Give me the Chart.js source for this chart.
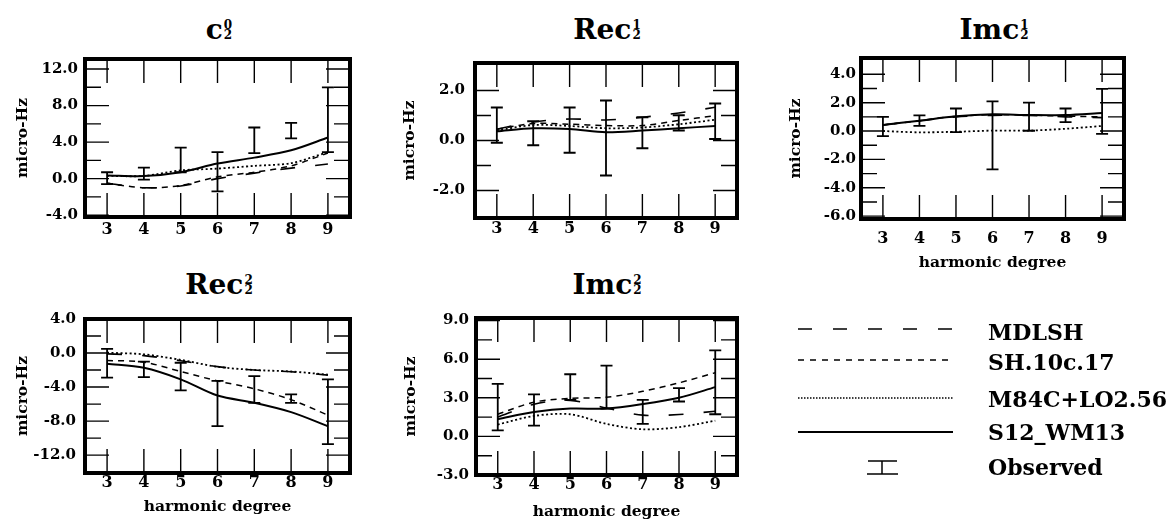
<!DOCTYPE html>
<html lang="en">
<head>
<meta charset="UTF-8" />
<title>Splitting coefficients vs harmonic degree</title>
<script src="https://cdn.jsdelivr.net/npm/chart.js"></script>
<style>
  body { margin: 0; width: 1171px; height: 531px; background: #fff; position: relative; overflow: hidden;
         font-family: "DejaVu Serif", serif; font-weight: bold; color: #000; }
  canvas { position: absolute; }
  .ttl { position: absolute; font-size: 28px; line-height: 28px; transform: translateX(-50%); white-space: nowrap; }
  .ss { display: inline-block; font-size: 12px; line-height: 10px; vertical-align: baseline; margin-left: 1px; text-align: left; }
  .ss span { display: block; }
  .leg { position: absolute; left: 988px; font-size: 22px; line-height: 22px; white-space: nowrap; }
  svg { position: absolute; left: 0; top: 0; }
</style>
</head>
<body>
<div class="ttl" style="left:219px;top:16px">c<span class="ss"><span>0</span><span>2</span></span></div>
<div class="ttl" style="left:607px;top:16px">Rec<span class="ss"><span>1</span><span>2</span></span></div>
<div class="ttl" style="left:994px;top:16px">Imc<span class="ss"><span>1</span><span>2</span></span></div>
<div class="ttl" style="left:219px;top:271px">Rec<span class="ss"><span>2</span><span>2</span></span></div>
<div class="ttl" style="left:607px;top:271px">Imc<span class="ss"><span>2</span><span>2</span></span></div>

<canvas id="p1"></canvas>
<canvas id="p2"></canvas>
<canvas id="p3"></canvas>
<canvas id="p4"></canvas>
<canvas id="p5"></canvas>

<svg width="1171" height="531">
  <g stroke="#000" fill="none">
    <line x1="798" y1="329" x2="953" y2="329" stroke-width="1.6" stroke-dasharray="14 21" />
    <line x1="798" y1="360" x2="953" y2="360" stroke-width="1.5" stroke-dasharray="6 6" />
    <line x1="798" y1="398" x2="953" y2="398" stroke-width="1.6" stroke-dasharray="1.5 1.5" />
    <line x1="798" y1="432" x2="953" y2="432" stroke-width="2" />
    <line x1="868" y1="461" x2="897" y2="461" stroke-width="1.5" />
    <line x1="882" y1="461" x2="882" y2="474" stroke-width="1.5" />
    <line x1="867" y1="474" x2="898" y2="474" stroke-width="1.5" />
  </g>
</svg>
<div class="leg" style="top:321px">MDLSH</div>
<div class="leg" style="top:351px">SH.10c.17</div>
<div class="leg" style="top:388px">M84C+LO2.56</div>
<div class="leg" style="top:421px">S12_WM13</div>
<div class="leg" style="top:456px">Observed</div>

<script>
  const degrees = [3, 4, 5, 6, 7, 8, 9];

  // c_2^0
  const c20MDLSH = [-0.5, -1.0, -0.8, 0.0, 0.6, 1.15, 1.6];
  const c20SH = [-0.5, -1.0, -0.75, 0.2, 0.7, 1.4, 2.8];
  const c20M84C = [0.3, 0.3, 0.9, 1.1, 1.4, 1.7, 2.9];
  const c20S12 = [0.35, 0.28, 0.7, 1.65, 2.3, 3.1, 4.5];
  const c20ObsLow = [-0.6, -0.1, 0.7, -1.4, 2.8, 4.4, 2.9];
  const c20ObsHigh = [0.7, 1.2, 3.4, 2.9, 5.6, 6.1, 10.0];

  // Re c_2^1
  const rec21MDLSH = [0.45, 0.74, 0.86, 0.82, 0.93, 1.1, 1.33];
  const rec21SH = [0.45, 0.68, 0.65, 0.6, 0.6, 0.8, 0.99];
  const rec21M84C = [0.4, 0.62, 0.58, 0.49, 0.52, 0.65, 0.83];
  const rec21S12 = [0.37, 0.49, 0.46, 0.33, 0.4, 0.49, 0.58];
  const rec21ObsLow = [-0.09, -0.19, -0.49, -1.4, -0.31, 0.4, 0.06];
  const rec21ObsHigh = [1.32, 0.77, 1.32, 1.6, 0.93, 1.01, 1.48];

  // Im c_2^1
  const imc21MDLSH = [0.43, 0.73, 1.0, 1.1, 1.1, 1.0, 0.95];
  const imc21SH = [0.43, 0.73, 1.04, 1.15, 1.12, 1.05, 1.0];
  const imc21M84C = [0.0, -0.09, -0.05, 0.03, 0.03, 0.16, 0.36];
  const imc21S12 = [0.43, 0.73, 1.04, 1.18, 1.13, 1.13, 1.27];
  const imc21ObsLow = [-0.36, 0.36, -0.07, -2.7, 0.02, 0.63, -0.2];
  const imc21ObsHigh = [1.0, 1.11, 1.59, 2.09, 2.0, 1.59, 2.97];

  // Re c_2^2
  const rec22MDLSH = [-0.1, -0.3, -0.9, -1.6, -2.0, -2.2, -2.6];
  const rec22SH = [-0.88, -1.07, -2.17, -3.28, -4.2, -5.48, -7.3];
  const rec22M84C = [0.04, -0.15, -0.8, -1.62, -1.99, -2.17, -2.54];
  const rec22S12 = [-1.25, -1.73, -3.09, -5.0, -5.85, -6.95, -8.6];
  const rec22ObsLow = [-2.9, -2.84, -4.38, -8.6, -5.85, -5.85, -10.7];
  const rec22ObsHigh = [0.48, -1.0, -1.14, -3.28, -2.72, -4.86, -3.09];

  // Im c_2^2
  const imc22MDLSH = [1.5, 2.5, 2.8, 2.2, 1.65, 1.7, 1.95];
  const imc22SH = [1.72, 2.66, 2.96, 3.04, 3.5, 4.16, 4.95];
  const imc22M84C = [0.92, 1.59, 1.72, 0.97, 0.55, 0.72, 1.22];
  const imc22S12 = [1.34, 1.89, 2.16, 2.16, 2.51, 3.0, 3.83];
  const imc22ObsLow = [0.47, 0.84, 2.84, 2.16, 0.97, 2.71, 1.72];
  const imc22ObsHigh = [4.08, 3.26, 4.83, 5.5, 2.84, 3.75, 6.69];

  // y tick values (labelled / unlabelled)
  const c20Major = [-4, 0, 4, 8, 12], c20Minor = [-2, 2, 6, 10];
  const rec21Major = [-2, 0, 2], rec21Minor = [-1, 1];
  const imc21Major = [-6, -4, -2, 0, 2, 4], imc21Minor = [-5, -3, -1, 1, 3];
  const rec22Major = [-12, -8, -4, 0, 4], rec22Minor = [-10, -6, -2, 2];
  const imc22Major = [-3, 0, 3, 6, 9], imc22Minor = [-1.5, 1.5, 4.5, 7.5];

  Chart.defaults.font.family = "'DejaVu Serif', serif";
  Chart.defaults.font.weight = "bold";
  Chart.defaults.color = "#000";

  const lineStyles = [
    { label: "MDLSH", dash: [15, 20], width: 1.6 },
    { label: "SH.10c.17", dash: [6, 5], width: 1.5 },
    { label: "M84C+LO2.56", dash: [2, 2.5], width: 1.8 },
    { label: "S12_WM13", dash: [], width: 2 },
  ];

  function makePanel(p) {
    const canvas = document.getElementById(p.id);
    const w = p.R - p.L + 85 + 12;
    const h = p.B - p.T + 8 + 60;
    canvas.width = w;
    canvas.height = h;
    canvas.style.left = p.L - 85 + "px";
    canvas.style.top = p.T - 8 + "px";

    const yTicks = p.major.concat(p.minor).sort((a, b) => a - b);

    // inward tick marks and heavy frame
    const frame = {
      id: "frame",
      afterDraw(chart) {
        const { ctx, chartArea: a, scales } = chart;
        ctx.save();
        ctx.strokeStyle = "#000";
        ctx.lineWidth = 1.4;
        ctx.beginPath();
        degrees.forEach((d) => {
          const px = scales.x.getPixelForValue(d);
          ctx.moveTo(px, a.top);
          ctx.lineTo(px, a.top + 24);
          ctx.moveTo(px, a.bottom);
          ctx.lineTo(px, a.bottom - 24);
        });
        yTicks.forEach((v) => {
          const py = scales.y.getPixelForValue(v);
          const len = p.minor.includes(v) ? 16 : 24;
          ctx.moveTo(a.left, py);
          ctx.lineTo(a.left + len, py);
          ctx.moveTo(a.right, py);
          ctx.lineTo(a.right - len, py);
        });
        ctx.stroke();
        ctx.lineWidth = 4;
        ctx.strokeRect(a.left, a.top, a.width, a.height);
        ctx.restore();
      },
    };

    // observed values with error bars
    const errorBars = {
      id: "errorBars",
      afterDatasetsDraw(chart) {
        const { ctx, scales } = chart;
        ctx.save();
        ctx.strokeStyle = "#000";
        ctx.lineWidth = 1.8;
        ctx.beginPath();
        p.obsLow.forEach((lo, i) => {
          const px = scales.x.getPixelForValue(degrees[i]);
          const y1 = scales.y.getPixelForValue(lo);
          const y2 = scales.y.getPixelForValue(p.obsHigh[i]);
          ctx.moveTo(px, y1);
          ctx.lineTo(px, y2);
          ctx.moveTo(px - 6, y1);
          ctx.lineTo(px + 6, y1);
          ctx.moveTo(px - 6, y2);
          ctx.lineTo(px + 6, y2);
        });
        ctx.stroke();
        ctx.restore();
      },
    };

    new Chart(canvas, {
      type: "line",
      data: {
        datasets: p.series.map((vals, k) => ({
          label: lineStyles[k].label,
          data: degrees.map((d, i) => ({ x: d, y: vals[i] })),
          borderColor: "#000",
          borderWidth: lineStyles[k].width,
          borderDash: lineStyles[k].dash,
          pointRadius: 0,
          tension: 0.3,
          fill: false,
        })),
      },
      options: {
        responsive: false,
        animation: false,
        layout: { padding: { top: 8, right: 12, left: 0, bottom: 0 } },
        plugins: { legend: { display: false }, tooltip: { enabled: false } },
        scales: {
          x: {
            type: "linear",
            min: 2.4,
            max: 9.6,
            afterBuildTicks: (s) => { s.ticks = degrees.map((v) => ({ value: v })); },
            afterFit: (s) => { s.height = 60; },
            grid: { display: false, drawTicks: false },
            border: { display: false },
            ticks: { padding: p.xPad, font: { size: 16 }, maxRotation: 0, autoSkip: false },
            title: {
              display: p.xTitle,
              text: "harmonic degree",
              font: { size: 15.5 },
              padding: { top: 0, bottom: p.xTitlePad },
            },
          },
          y: {
            min: p.yMin,
            max: p.yMax,
            afterBuildTicks: (s) => { s.ticks = yTicks.map((v) => ({ value: v })); },
            afterFit: (s) => { s.width = 85; },
            grid: { display: false, drawTicks: false },
            border: { display: false },
            ticks: {
              padding: p.yPad,
              font: { size: 15 },
              autoSkip: false,
              callback: (v) => (p.major.includes(v) ? v.toFixed(1) : ""),
            },
            title: {
              display: true,
              text: "micro-Hz",
              font: { size: 15.5 },
              padding: { top: p.yTitlePad, bottom: 0 },
            },
          },
        },
      },
      plugins: [errorBars, frame],
    });
  }

  makePanel({
    id: "p1", L: 85, R: 350, T: 51, B: 217, yMin: -4.2, yMax: 13.1,
    major: c20Major, minor: c20Minor,
    series: [c20MDLSH, c20SH, c20M84C, c20S12], obsLow: c20ObsLow, obsHigh: c20ObsHigh,
    xTitle: false, xPad: 3, xTitlePad: 0, yPad: 7, yTitlePad: 14,
  });
  makePanel({
    id: "p2", L: 475, R: 737, T: 52, B: 218, yMin: -3.1, yMax: 3.1,
    major: rec21Major, minor: rec21Minor,
    series: [rec21MDLSH, rec21SH, rec21M84C, rec21S12], obsLow: rec21ObsLow, obsHigh: rec21ObsHigh,
    xTitle: false, xPad: 1, xTitlePad: 0, yPad: 10, yTitlePad: 11,
  });
  makePanel({
    id: "p3", L: 861, R: 1124, T: 52, B: 219, yMin: -6.2, yMax: 5.15,
    major: imc21Major, minor: imc21Minor,
    series: [imc21MDLSH, imc21SH, imc21M84C, imc21S12], obsLow: imc21ObsLow, obsHigh: imc21ObsHigh,
    xTitle: true, xPad: 10, xTitlePad: 7, yPad: 5, yTitlePad: 11,
  });
  makePanel({
    id: "p4", L: 85, R: 350, T: 309, B: 473, yMin: -14.1, yMax: 4,
    major: rec22Major, minor: rec22Minor,
    series: [rec22MDLSH, rec22SH, rec22M84C, rec22S12], obsLow: rec22ObsLow, obsHigh: rec22ObsHigh,
    xTitle: true, xPad: 0, xTitlePad: 17, yPad: 9, yTitlePad: 14,
  });
  makePanel({
    id: "p5", L: 476, R: 737, T: 310, B: 475, yMin: -3, yMax: 9.2,
    major: imc22Major, minor: imc22Minor,
    series: [imc22MDLSH, imc22SH, imc22M84C, imc22S12], obsLow: imc22ObsLow, obsHigh: imc22ObsHigh,
    xTitle: true, xPad: 0, xTitlePad: 14, yPad: 7, yTitlePad: 11,
  });
</script>
</body>
</html>
